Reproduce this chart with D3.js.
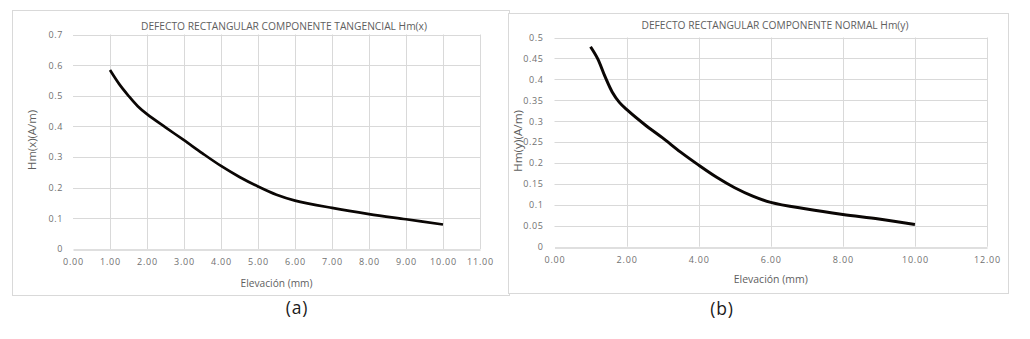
<!DOCTYPE html>
<html>
<head>
<meta charset="utf-8">
<script src="https://cdn.jsdelivr.net/npm/d3@7"></script>
<style>
  html, body { margin: 0; padding: 0; background: #fff; }
  svg { display: block; }
  text { font-family: "Open Sans", Lato, sans-serif; }
</style>
</head>
<body>
<svg id="chart" width="1030" height="339"></svg>
<script>
// ---- Data ----
const elevA = [1, 1.25, 1.5, 1.75, 2, 2.5, 3, 3.5, 4, 4.5, 5, 5.5, 6, 7, 8, 9, 10];
const hmX   = [0.584, 0.538, 0.50, 0.466, 0.44, 0.397, 0.355, 0.312, 0.271, 0.235, 0.204, 0.177, 0.158, 0.134, 0.114, 0.097, 0.080];

const elevB = [1, 1.2, 1.4, 1.6, 1.8, 2, 2.5, 3, 3.5, 4, 4.5, 5, 5.5, 6, 7, 8, 9, 10];
const hmY   = [0.478, 0.449, 0.407, 0.37, 0.345, 0.328, 0.292, 0.26, 0.226, 0.195, 0.166, 0.141, 0.121, 0.106, 0.09, 0.077, 0.066, 0.053];

const xTicksA = [0,1,2,3,4,5,6,7,8,9,10,11];
const yTicksA = [0,0.1,0.2,0.3,0.4,0.5,0.6,0.7];
const xTicksB = [0,2,4,6,8,10,12];
const yTicksB = [0,0.05,0.1,0.15,0.2,0.25,0.3,0.35,0.4,0.45,0.5];

const titleA = "DEFECTO RECTANGULAR COMPONENTE TANGENCIAL  Hm(x)";
const titleB = "DEFECTO RECTANGULAR COMPONENTE NORMAL Hm(y)";
const yLabelA = "Hm(x)(A/m)";
const yLabelB = "Hm(y)(A/m)";
const xLabel = "Elevación (mm)";

const svg = d3.select("#chart");
const GREY = "#5e5e5e";
const TICK = "#707070";

function drawChart(cfg) {
  const g = svg.append("g");
  g.append("rect")
    .attr("x", cfg.box[0] + 0.5).attr("y", cfg.box[1] + 0.5)
    .attr("width", cfg.box[2] - cfg.box[0]).attr("height", cfg.box[3] - cfg.box[1])
    .attr("fill", "#fff").attr("stroke", "#d9d9d9").attr("stroke-width", 1);

  const x = d3.scaleLinear().domain(cfg.xDomain).range([cfg.plot.l, cfg.plot.r]);
  const y = d3.scaleLinear().domain(cfg.yDomain).range([cfg.plot.b, cfg.plot.t]);

  g.append("g").selectAll("line").data(cfg.yTicks.filter(d => d !== 0)).join("line")
    .attr("x1", cfg.plot.l).attr("x2", cfg.plot.r)
    .attr("y1", d => Math.round(y(d)) + 0.5).attr("y2", d => Math.round(y(d)) + 0.5)
    .attr("stroke", "#d9d9d9").attr("stroke-width", 1);
  g.append("g").selectAll("line").data(cfg.xTicks.filter(d => d !== 0)).join("line")
    .attr("y1", cfg.plot.t).attr("y2", cfg.plot.b)
    .attr("x1", d => Math.round(x(d)) + 0.5).attr("x2", d => Math.round(x(d)) + 0.5)
    .attr("stroke", "#d9d9d9").attr("stroke-width", 1);

  const xAxis = d3.axisBottom(x).tickValues(cfg.xTicks).tickFormat(d3.format(".2f")).tickSize(0).tickPadding(9);
  const xg = g.append("g").attr("transform", `translate(0,${Math.round(cfg.plot.b) + 0.5})`).call(xAxis);
  xg.select(".domain").attr("stroke", "#bfbfbf");
  xg.selectAll("text").attr("fill", TICK).style("font-size", "9px").style("letter-spacing", "0.8px");

  const yAxis = d3.axisLeft(y).tickValues(cfg.yTicks).tickFormat(d => String(+d.toFixed(2))).tickSize(0).tickPadding(cfg.yPad);
  const yg = g.append("g").attr("transform", `translate(${cfg.plot.l},0)`).call(yAxis);
  yg.select(".domain").remove();
  yg.selectAll("text").attr("fill", TICK).style("font-size", "9px").style("letter-spacing", "0.6px");

  const pts = cfg.xs.map((v, i) => [v, cfg.ys[i]]);
  g.append("path").datum(pts)
    .attr("d", d3.line().x(d => x(d[0])).y(d => y(d[1])).curve(d3.curveCatmullRom.alpha(0.5)))
    .attr("fill", "none").attr("stroke", "#0a0604").attr("stroke-width", cfg.lw)
    .attr("stroke-linecap", "butt").attr("stroke-linejoin", "round");

  g.append("text").attr("x", cfg.titleX).attr("y", cfg.titleY)
    .attr("text-anchor", "middle").attr("dominant-baseline", "central")
    .attr("textLength", cfg.titleW).attr("lengthAdjust", "spacingAndGlyphs")
    .attr("fill", GREY).style("font-size", "10px").text(cfg.title);

  g.append("text").attr("x", (cfg.plot.l + cfg.plot.r) / 2).attr("y", cfg.xLabelY)
    .attr("text-anchor", "middle").attr("dominant-baseline", "central")
    .attr("textLength", cfg.xLabelW).attr("lengthAdjust", "spacingAndGlyphs")
    .attr("fill", GREY).style("font-size", "10px").text(xLabel);
  g.append("text")
    .attr("transform", `translate(${cfg.yLabelX},${cfg.yLabelY}) rotate(-90)`)
    .attr("text-anchor", "middle").attr("dominant-baseline", "central")
    .attr("textLength", cfg.yLabelW).attr("lengthAdjust", "spacingAndGlyphs")
    .attr("fill", GREY).style("font-size", "10px").text(cfg.yLabel);

  g.append("text").attr("x", cfg.capX).attr("y", cfg.capY)
    .attr("text-anchor", "middle").attr("dominant-baseline", "central")
    .attr("fill", "#1a1a1a").style("font-size", "17.5px").style("letter-spacing", "0.8px").text(cfg.caption);
}

drawChart({
  box: [12, 10, 509, 295],
  plot: { l: 73, r: 480, t: 34.5, b: 249 },
  xDomain: [0, 11], yDomain: [0, 0.7],
  xTicks: xTicksA, yTicks: yTicksA, yPad: 10,
  xs: elevA, ys: hmX, lw: 2.7,
  title: titleA, titleX: 284, titleY: 26, titleW: 286,
  yLabel: yLabelA, yLabelX: 32, yLabelY: 140, yLabelW: 60,
  xLabelY: 283, xLabelW: 72,
  caption: "(a)", capX: 297, capY: 307
});

drawChart({
  box: [508, 13, 1008, 293],
  plot: { l: 554.5, r: 987, t: 37.5, b: 246.7 },
  xDomain: [0, 12], yDomain: [0, 0.5],
  xTicks: xTicksB, yTicks: yTicksB, yPad: 11,
  xs: elevB, ys: hmY, lw: 3,
  title: titleB, titleX: 775, titleY: 25, titleW: 267,
  yLabel: yLabelB, yLabelX: 518, yLabelY: 141, yLabelW: 62,
  xLabelY: 279, xLabelW: 74,
  caption: "(b)", capX: 722, capY: 308
});
</script>
</body>
</html>
